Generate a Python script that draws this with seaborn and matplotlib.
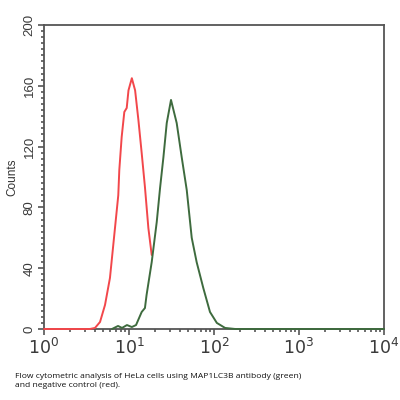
import numpy as np
import pandas as pd
import matplotlib
matplotlib.use("Agg")
import matplotlib.pyplot as plt
from matplotlib.ticker import MultipleLocator, LogLocator, NullFormatter
import seaborn as sns

# data (fluorescence intensity, counts)
red_intensity = [1.0, 2.0, 3.47, 3.98, 4.56, 5.22, 5.97, 6.84, 7.48, 7.69, 8.20,
                 8.81, 9.40, 9.86, 10.8, 11.8, 12.9, 14.1, 15.4, 16.9, 18.5]
red_counts = [0, 0, 0, 0.7, 4.6, 15.8, 33.6, 66.4, 88, 104.6, 126.3,
              142.8, 145.4, 157, 165, 157, 137.5, 115.8, 93.4, 66.4, 48.7]

green_intensity = [6.31, 7.43, 8.28, 9.46, 10.8, 12.1, 14.1, 15.4, 16.1, 18.5,
                   21.2, 23.2, 25.4, 27.8, 31.2, 36.4, 41.7, 47.8, 54.7, 62.5,
                   74.8, 89.7, 108, 135, 178, 10000]
green_counts = [0, 2, 0.7, 2.6, 1.3, 2.6, 11.2, 13.8, 22.4, 44,
                70.4, 92.8, 113, 135.5, 150.7, 135.5, 113, 91.4, 60, 44,
                27, 11.2, 4, 0.7, 0, 0]

y_ticks = [0, 40, 80, 120, 160, 200]
caption = ("Flow cytometric analysis of HeLa cells using MAP1LC3B antibody (green)\n"
           "and negative control (red).")

red_df = pd.DataFrame({"intensity": red_intensity, "counts": red_counts})
green_df = pd.DataFrame({"intensity": green_intensity, "counts": green_counts})

sns.set_style("ticks")
plt.rcParams['font.family'] = ['Liberation Sans', 'DejaVu Sans']

fig = plt.figure(figsize=(4, 4), dpi=100)
ax = fig.add_axes([0.11, 0.1775, 0.85, 0.76])

sns.lineplot(data=red_df, x="intensity", y="counts", color="#f2474b",
             linewidth=1.4, sort=False, ax=ax)
sns.lineplot(data=green_df, x="intensity", y="counts", color="#3e6b3e",
             linewidth=1.4, sort=False, ax=ax)
for ln in ax.lines:
    ln.set_clip_on(False)
    ln.set_zorder(5)

ax.set_xscale("log")
ax.set_xlim(1, 10000)
ax.set_ylim(0, 200)

for s in ax.spines.values():
    s.set_color("#555555")
    s.set_linewidth(1.3)

ax.set_yticks(y_ticks)
ax.yaxis.set_minor_locator(MultipleLocator(4))
ax.set_yticklabels([str(v) for v in y_ticks], rotation=90, va="center",
                   fontsize=9.5, color="#3a3a3a")
ax.xaxis.set_major_locator(LogLocator(base=10, numticks=10))
ax.xaxis.set_minor_locator(LogLocator(base=10, subs=np.arange(2, 10), numticks=20))
ax.xaxis.set_minor_formatter(NullFormatter())
ax.set_xticks([1, 10, 100, 1000, 10000])
ax.set_xticklabels([r"$10^{0}$", r"$10^{1}$", r"$10^{2}$", r"$10^{3}$", r"$10^{4}$"],
                   fontsize=12.5, color="#3a3a3a")
ax.tick_params(axis="both", which="major", direction="out", length=4, width=1.2,
               color="#555555", pad=2)
ax.tick_params(axis="both", which="minor", direction="out", length=2.5, width=1.2,
               color="#555555")

ax.set_xlabel("")
ax.set_ylabel("Counts", fontsize=8.5, color="#333333", labelpad=4)

fig.text(0.0375, 0.048, caption, fontsize=6.1, color="#111111", va="center",
         linespacing=1.45, family=["Open Sans", "DejaVu Sans"])

fig.savefig("out.png", dpi=100)
